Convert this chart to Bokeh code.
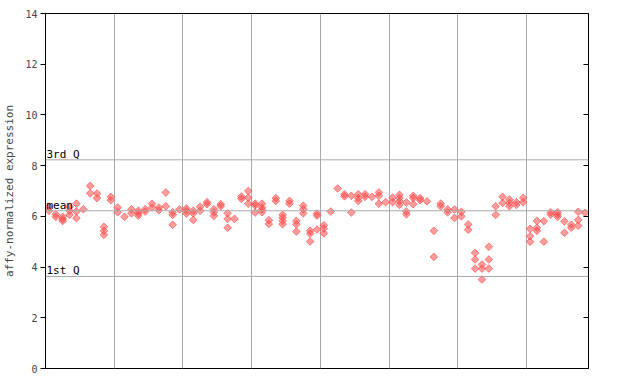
import math
from bokeh.plotting import figure
from bokeh.models import Span, Label, LinearAxis, FixedTicker, Range1d, ColumnDataSource
from bokeh.embed import file_html
from bokeh.resources import INLINE

# expression values per sample (sample index = position in list)
group_a = [[6.38, 6.22], [6.08, 5.98], [5.98, 5.89, 5.82], [6.38, 6.22, 6.06], [6.5, 6.19, 5.93],
           [6.28], [7.2, 6.91], [6.9, 6.72], [5.59, 5.43, 5.27], [6.77, 6.64]]
group_b = [[6.35, 6.16], [5.98], [6.28, 6.12], [6.22, 6.12, 6.03], [6.28, 6.19],
           [6.5, 6.35], [6.35, 6.24], [6.94, 6.4], [6.16, 6.06, 5.67], [6.27]]
group_c = [[6.31, 6.22, 6.11], [6.22, 6.12, 5.86], [6.38, 6.22], [6.56, 6.48], [6.28, 6.16, 6.02],
           [6.48, 6.4], [6.12, 5.9, 5.55], [5.9], [6.78, 6.69], [7.0, 6.74, 6.5]]
group_d = [[6.5, 6.43, 6.15], [6.5, 6.35, 6.27, 6.16], [5.85, 5.7], [6.72, 6.61], [6.06, 5.95, 5.82, 5.69],
           [6.61, 6.5], [5.82, 5.69, 5.4], [6.42, 6.28, 6.12], [5.43, 5.32, 5.01], [6.11, 6.03, 5.48]]
group_e = [[5.65, 5.52, 5.33], [6.19], [7.1], [6.87, 6.79], [6.81, 6.15],
           [6.87, 6.72, 6.61], [6.87, 6.77], [6.77], [6.94, 6.81, 6.5], [6.56]]
group_f = [[6.74, 6.56], [6.85, 6.72, 6.59, 6.45], [6.55, 6.19, 6.08], [6.81, 6.72, 6.48], [6.72, 6.64],
           [6.59], [5.43, 4.4], [6.5, 6.4], [6.27, 6.16], [6.27, 5.94]]
group_g = [[6.18, 6.0], [5.68, 5.47], [4.56, 4.3, 3.94], [4.1, 3.94, 3.51], [4.8, 4.3, 3.94],
           [6.4, 6.06], [6.77, 6.53], [6.66, 6.53, 6.4], [6.56, 6.45], [6.73, 6.56]]
group_h = [[5.51, 5.22, 5.0], [5.82, 5.55, 5.43], [5.81, 5.0], [6.16, 6.07], [6.16, 6.07, 5.98],
           [5.8, 5.35], [5.67, 5.55], [6.18, 5.86, 5.63], [6.14]]

groups = [group_a, group_b, group_c, group_d, group_e, group_f, group_g, group_h]

q1_value = 3.63
mean_value = 6.22
q3_value = 8.23
y_ticks = [0, 2, 4, 6, 8, 10, 12, 14]

samples = [s for g in groups for s in g]
xs, ys = [], []
for i, vals in enumerate(samples):
    for v in vals:
        xs.append(i)
        ys.append(v)
n = len(samples)

boundaries = []
count = 0
for g in groups[:-1]:
    count += len(g)
    boundaries.append(count - 0.5)

p = figure(output_backend="svg", toolbar_location=None,
           x_range=Range1d(-0.5, n - 0.5), y_range=Range1d(0, 14),
           frame_width=543, frame_height=355,
           min_border_left=36, min_border_top=13, min_border_right=13, min_border_bottom=9)
p.background_fill_color = "white"
p.border_fill_color = "white"
p.outline_line_color = "black"
p.outline_line_width = 1
p.outline_line_alpha = 1

p.xaxis.visible = False
p.xgrid.ticker = FixedTicker(ticks=boundaries)
p.xgrid.grid_line_color = "#aaaaaa"
p.xgrid.grid_line_width = 1
p.ygrid.visible = False

ya = p.yaxis[0]
ya.ticker = FixedTicker(ticks=y_ticks)
ya.axis_label = "affy-normalized expression"
ya.axis_label_text_font = "DejaVu Sans Mono"
ya.axis_label_text_font_size = "11px"
ya.axis_label_text_font_style = "normal"
ya.axis_label_standoff = 6
ya.major_label_text_font = "DejaVu Sans Mono"
ya.major_label_text_font_size = "10px"
ya.major_label_standoff = 3
ya.major_tick_out = 5
ya.major_tick_in = 0
ya.minor_tick_out = 0
ya.minor_tick_in = 0
ya.axis_line_color = "black"
ya.major_tick_line_color = "black"

ra = LinearAxis(ticker=FixedTicker(ticks=y_ticks), major_label_text_color=None,
                major_tick_in=5, major_tick_out=0, minor_tick_in=0, minor_tick_out=0,
                major_label_standoff=0)
p.add_layout(ra, "right")

for val, name in [(q3_value, "3rd Q"), (mean_value, "mean"), (q1_value, "1st Q")]:
    p.add_layout(Span(location=val, dimension="width", line_color="#aaaaaa", line_width=1))
    p.add_layout(Label(x=-0.5, y=val, text=name, text_font="DejaVu Sans Mono",
                       text_font_size="11px", text_baseline="bottom", text_align="left",
                       x_offset=1, y_offset=-1, text_color="black"))

src = ColumnDataSource(data=dict(x=xs, y=ys))
p.scatter("x", "y", source=src, marker="square", angle=math.pi / 4, size=5.4,
          fill_color="#ff4d4d", fill_alpha=0.55, line_color="#ff4d4d", line_alpha=0.85, line_width=0.8)

open("out.html", "w").write(file_html(p, INLINE))
